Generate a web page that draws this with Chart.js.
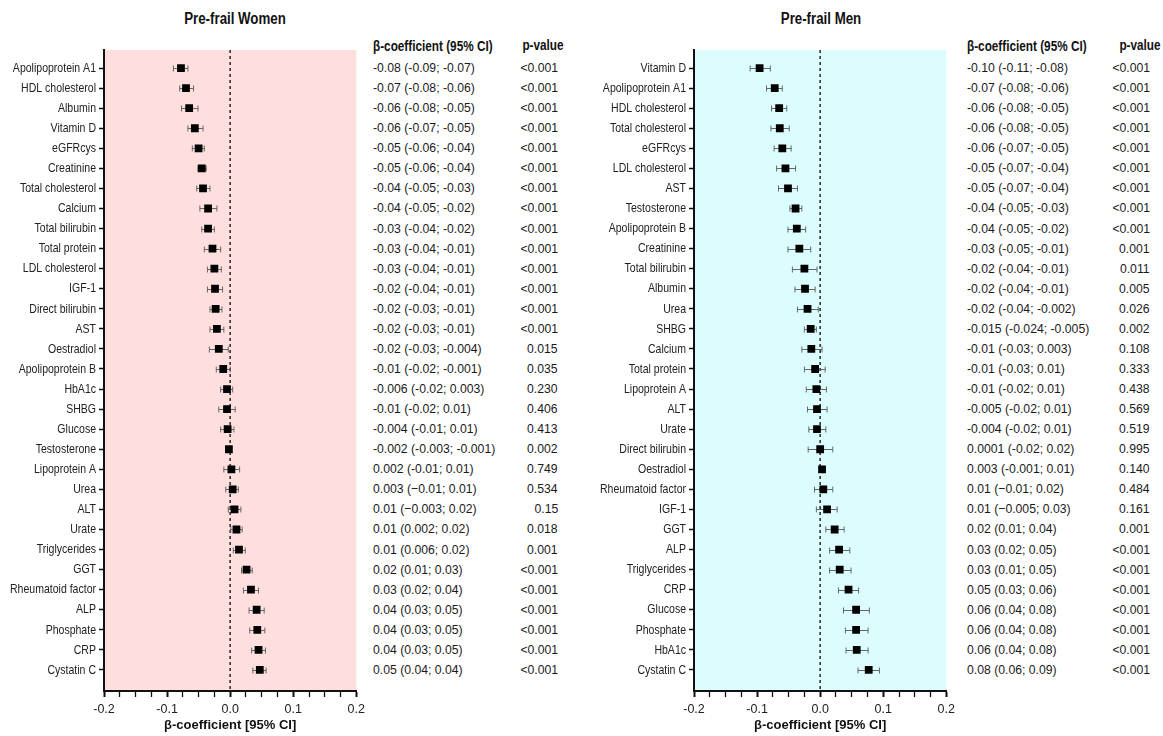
<!DOCTYPE html>
<html>
<head>
<meta charset="utf-8">
<script src="https://cdn.jsdelivr.net/npm/chart.js@4.4.0/dist/chart.umd.min.js"></script>
<style>
  body { margin: 0; background: #fff; width: 1163px; height: 736px; overflow: hidden; position: relative;
         font-family: 'Liberation Sans', Arial, sans-serif; color: #111; }
  canvas { position: absolute; top: 0; }
  .title { position: absolute; top: 10px; font-weight: bold; font-size: 16px; white-space: nowrap;
           transform: translateX(-50%) scaleX(0.83); transform-origin: center center; }
  .cell { position: absolute; font-size: 13px; line-height: 16px; white-space: nowrap; color: #1a1a1a; }
  .head { font-weight: bold; font-size: 14px; color: #111; }
</style>
</head>
<body>
<div class="title" style="left:235px">Pre-frail Women</div>
<div class="title" style="left:821px">Pre-frail Men</div>
<canvas id="women" width="370" height="736" style="left:0px"></canvas>
<canvas id="men" width="370" height="736" style="left:590px"></canvas>
<div id="tables"></div>
<script>
// ---- data: women ----
const womenLabels = ['Apolipoprotein A1', 'HDL cholesterol', 'Albumin', 'Vitamin D', 'eGFRcys', 'Creatinine',
  'Total cholesterol', 'Calcium', 'Total bilirubin', 'Total protein', 'LDL cholesterol', 'IGF-1', 'Direct bilirubin',
  'AST', 'Oestradiol', 'Apolipoprotein B', 'HbA1c', 'SHBG', 'Glucose', 'Testosterone', 'Lipoprotein A', 'Urea',
  'ALT', 'Urate', 'Triglycerides', 'GGT', 'Rheumatoid factor', 'ALP', 'Phosphate', 'CRP', 'Cystatin C'];
const womenBeta = [-0.078, -0.070, -0.065, -0.056, -0.050, -0.045, -0.043, -0.035, -0.035, -0.028, -0.025, -0.024,
  -0.023, -0.021, -0.018, -0.011, -0.005, -0.005, -0.004, -0.002, 0.002, 0.004, 0.007, 0.010, 0.014, 0.026,
  0.033, 0.042, 0.043, 0.045, 0.047];
const womenLo = [-0.090, -0.080, -0.077, -0.067, -0.060, -0.051, -0.053, -0.048, -0.045, -0.041, -0.036, -0.036,
  -0.032, -0.032, -0.033, -0.022, -0.015, -0.018, -0.015, -0.005, -0.010, -0.007, -0.003, 0.001, 0.005, 0.018,
  0.021, 0.030, 0.031, 0.034, 0.036];
const womenHi = [-0.067, -0.058, -0.051, -0.043, -0.041, -0.038, -0.032, -0.021, -0.025, -0.015, -0.014, -0.012,
  -0.013, -0.010, -0.003, 0.000, 0.004, 0.008, 0.006, 0.002, 0.015, 0.013, 0.017, 0.019, 0.024, 0.035,
  0.045, 0.054, 0.055, 0.056, 0.057];
const womenCI = ['-0.08 (-0.09; -0.07)', '-0.07 (-0.08; -0.06)', '-0.06 (-0.08; -0.05)', '-0.06 (-0.07; -0.05)',
  '-0.05 (-0.06; -0.04)', '-0.05 (-0.06; -0.04)', '-0.04 (-0.05; -0.03)', '-0.04 (-0.05; -0.02)',
  '-0.03 (-0.04; -0.02)', '-0.03 (-0.04; -0.01)', '-0.03 (-0.04; -0.01)', '-0.02 (-0.04; -0.01)',
  '-0.02 (-0.03; -0.01)', '-0.02 (-0.03; -0.01)', '-0.02 (-0.03; -0.004)', '-0.01 (-0.02; -0.001)',
  '-0.006 (-0.02; 0.003)', '-0.01 (-0.02; 0.01)', '-0.004 (-0.01; 0.01)', '-0.002 (-0.003; -0.001)',
  '0.002 (-0.01; 0.01)', '0.003 (\u22120.01; 0.01)', '0.01 (\u22120.003; 0.02)', '0.01 (0.002; 0.02)',
  '0.01 (0.006; 0.02)', '0.02 (0.01; 0.03)', '0.03 (0.02; 0.04)', '0.04 (0.03; 0.05)', '0.04 (0.03; 0.05)',
  '0.04 (0.03; 0.05)', '0.05 (0.04; 0.04)'];
const womenP = ['<0.001', '<0.001', '<0.001', '<0.001', '<0.001', '<0.001', '<0.001', '<0.001', '<0.001', '<0.001',
  '<0.001', '<0.001', '<0.001', '<0.001', '0.015', '0.035', '0.230', '0.406', '0.413', '0.002', '0.749', '0.534',
  '0.15', '0.018', '0.001', '<0.001', '<0.001', '<0.001', '<0.001', '<0.001', '<0.001'];

// ---- data: men ----
const menLabels = ['Vitamin D', 'Apolipoprotein A1', 'HDL cholesterol', 'Total cholesterol', 'eGFRcys',
  'LDL cholesterol', 'AST', 'Testosterone', 'Apolipoprotein B', 'Creatinine', 'Total bilirubin', 'Albumin', 'Urea',
  'SHBG', 'Calcium', 'Total protein', 'Lipoprotein A', 'ALT', 'Urate', 'Direct bilirubin', 'Oestradiol',
  'Rheumatoid factor', 'IGF-1', 'GGT', 'ALP', 'Triglycerides', 'CRP', 'Glucose', 'Phosphate', 'HbA1c', 'Cystatin C'];
const menBeta = [-0.096, -0.072, -0.065, -0.064, -0.060, -0.055, -0.051, -0.039, -0.037, -0.033, -0.025, -0.024,
  -0.020, -0.015, -0.014, -0.008, -0.006, -0.005, -0.005, 0.000, 0.003, 0.005, 0.011, 0.023, 0.030, 0.031,
  0.045, 0.057, 0.057, 0.058, 0.077];
const menLo = [-0.111, -0.085, -0.077, -0.078, -0.073, -0.069, -0.066, -0.048, -0.051, -0.051, -0.044, -0.040,
  -0.036, -0.025, -0.029, -0.025, -0.022, -0.020, -0.018, -0.019, 0.000, -0.009, -0.006, 0.009, 0.015, 0.015,
  0.029, 0.037, 0.040, 0.041, 0.060];
const menHi = [-0.079, -0.060, -0.053, -0.049, -0.046, -0.039, -0.036, -0.029, -0.023, -0.015, -0.005, -0.008,
  -0.003, -0.006, 0.003, 0.008, 0.010, 0.011, 0.009, 0.020, 0.007, 0.020, 0.027, 0.038, 0.047, 0.049,
  0.061, 0.078, 0.076, 0.076, 0.094];
const menCI = ['-0.10 (-0.11; -0.08)', '-0.07 (-0.08; -0.06)', '-0.06 (-0.08; -0.05)', '-0.06 (-0.08; -0.05)',
  '-0.06 (-0.07; -0.05)', '-0.05 (-0.07; -0.04)', '-0.05 (-0.07; -0.04)', '-0.04 (-0.05; -0.03)',
  '-0.04 (-0.05; -0.02)', '-0.03 (-0.05; -0.01)', '-0.02 (-0.04; -0.01)', '-0.02 (-0.04; -0.01)',
  '-0.02 (-0.04; -0.002)', '-0.015 (-0.024; -0.005)', '-0.01 (-0.03; 0.003)', '-0.01 (-0.03; 0.01)',
  '-0.01 (-0.02; 0.01)', '-0.005 (-0.02; 0.01)', '-0.004 (-0.02; 0.01)', '0.0001 (-0.02; 0.02)',
  '0.003 (-0.001; 0.01)', '0.01 (\u22120.01; 0.02)', '0.01 (\u22120.005; 0.03)', '0.02 (0.01; 0.04)',
  '0.03 (0.02; 0.05)', '0.03 (0.01; 0.05)', '0.05 (0.03; 0.06)', '0.06 (0.04; 0.08)', '0.06 (0.04; 0.08)',
  '0.06 (0.04; 0.08)', '0.08 (0.06; 0.09)'];
const menP = ['<0.001', '<0.001', '<0.001', '<0.001', '<0.001', '<0.001', '<0.001', '<0.001', '<0.001', '0.001',
  '0.011', '0.005', '0.026', '0.002', '0.108', '0.333', '0.438', '0.569', '0.519', '0.995', '0.140', '0.484',
  '0.161', '0.001', '<0.001', '<0.001', '<0.001', '<0.001', '<0.001', '<0.001', '<0.001'];

// ---- axis ticks ----
const xTickValues = [-0.2, -0.175, -0.15, -0.125, -0.1, -0.075, -0.05, -0.025, 0, 0.025, 0.05, 0.075, 0.1,
  0.125, 0.15, 0.175, 0.2];
const xMajorTicks = [-0.2, -0.1, 0, 0.1, 0.2];
const xTickLabels = ['-0.2', '-0.1', '0.0', '0.1', '0.2'];

const FONT = "'Liberation Sans', Arial, sans-serif";
const LABEL_SQUEEZE = 0.78;   // the original uses a condensed face
const CELL_SQUEEZE = 0.94;
const HEAD_SQUEEZE = 0.84;

function forestPlugin(bg, lo, hi) {
    return {
        id: 'forest',
        beforeDraw(chart) {
            const { ctx, chartArea: a } = chart;
            // squeeze the y labels horizontally, anchored at the axis
            const ys = chart.scales.y;
            if (!ys._squeezed) {
                const orig = ys.drawLabels;
                ys._computeLabelArea = () => undefined;
                ys.drawLabels = function (area) {
                    const c = this.ctx, ax = this.right - 8;
                    c.save();
                    c.translate(ax, 0); c.scale(LABEL_SQUEEZE, 1); c.translate(-ax, 0);
                    orig.call(this, area);
                    c.restore();
                };
                ys._squeezed = true;
            }
            ctx.save();
            ctx.fillStyle = bg;
            ctx.fillRect(a.left, a.top, a.right - a.left, a.bottom - a.top);
            ctx.restore();
        },
        beforeDatasetsDraw(chart) {
            const { ctx, chartArea: a, scales: { x, y } } = chart;
            ctx.save();
            const x0 = x.getPixelForValue(0);
            ctx.strokeStyle = '#333';
            ctx.lineWidth = 1.6;
            ctx.setLineDash([3, 3]);
            ctx.beginPath(); ctx.moveTo(x0, a.top); ctx.lineTo(x0, a.bottom); ctx.stroke();
            ctx.setLineDash([]);
            ctx.strokeStyle = '#666';
            ctx.lineWidth = 1;
            lo.forEach((l, i) => {
                const yy = Math.round(y.getPixelForValue(i)) + 0.5;
                const x1 = x.getPixelForValue(l), x2 = x.getPixelForValue(hi[i]);
                ctx.beginPath();
                ctx.moveTo(x1, yy); ctx.lineTo(x2, yy);
                ctx.moveTo(x1, yy - 3); ctx.lineTo(x1, yy + 3);
                ctx.moveTo(x2, yy - 3); ctx.lineTo(x2, yy + 3);
                ctx.stroke();
            });
            ctx.restore();
        }
    };
}

function makePanel(id, labels, beta, lo, hi, bg) {
    return new Chart(document.getElementById(id), {
        type: 'scatter',
        data: {
            datasets: [{
                data: beta.map((b, i) => ({ x: b, y: i })),
                pointStyle: 'rect', pointRadius: 5.5, pointHoverRadius: 5.5,
                backgroundColor: '#000', borderColor: '#000', borderWidth: 0,
            }],
        },
        options: {
            responsive: false, animation: false, events: [],
            layout: { padding: { top: 50, right: 12, left: 0, bottom: 0 } },
            plugins: { legend: { display: false }, tooltip: { enabled: false } },
            scales: {
                x: {
                    type: 'linear', min: -0.2, max: 0.2,
                    afterBuildTicks: s => { s.ticks = xTickValues.map(v => ({ value: v })); },
                    afterFit: s => { s.height = 45; },
                    grid: { drawOnChartArea: false, drawTicks: true, tickLength: 6, tickColor: '#111',
                            tickWidth: c => xMajorTicks.includes(c.tick?.value) ? 2 : 1.3 },
                    border: { color: '#111', width: 2 },
                    ticks: {
                        autoSkip: false, maxRotation: 0, padding: 5, color: '#222',
                        font: { family: FONT, size: 12.5 },
                        callback: v => { const k = xMajorTicks.indexOf(v); return k >= 0 ? xTickLabels[k] : ''; },
                    },
                    title: { display: true, text: '\u03b2-coefficient [95% CI]', color: '#111',
                             font: { family: FONT, size: 13, weight: 'bold' }, padding: { top: 0, bottom: 3 } },
                },
                y: {
                    type: 'linear', min: -0.9, max: 31.05, reverse: true,
                    afterBuildTicks: s => { s.ticks = labels.map((_, i) => ({ value: i })); },
                    afterFit: s => { s.width = 104; },
                    grid: { drawOnChartArea: false, drawTicks: true, tickLength: 5, tickColor: '#111', tickWidth: 1.5 },
                    border: { color: '#111', width: 2 },
                    ticks: { autoSkip: false, padding: 3, color: '#222', font: { family: FONT, size: 13.5 },
                             callback: v => labels[v] },
                },
            },
        },
        plugins: [forestPlugin(bg, lo, hi)],
    });
}

function addCell(text, x, y, bold, align) {
    const d = document.createElement('div');
    const k = bold ? HEAD_SQUEEZE : CELL_SQUEEZE;
    d.className = 'cell' + (bold ? ' head' : '');
    d.textContent = text;
    d.style.top = y + 'px';
    if (align === 'right') {
        d.style.right = (1163 - x) + 'px';
        d.style.transformOrigin = 'right center';
        d.style.transform = `translateY(-50%) scaleX(${k})`;
    } else if (align === 'center') {
        d.style.left = x + 'px';
        d.style.transformOrigin = 'left center';
        d.style.transform = `scaleX(${k}) translate(-50%,-50%)`;
    } else {
        d.style.left = x + 'px';
        d.style.transformOrigin = 'left center';
        d.style.transform = `translateY(-50%) scaleX(${k})`;
    }
    document.getElementById('tables').appendChild(d);
}

function makeTable(chart, ciText, pText, ciLeft, pRight, pHeadCenter) {
    const y = chart.scales.y;
    addCell('\u03b2-coefficient (95% CI)', ciLeft, 46, true);
    addCell('p-value', pHeadCenter, 45, true, 'center');
    ciText.forEach((t, i) => {
        const yy = y.getPixelForValue(i);
        addCell(t, ciLeft, yy, false);
        addCell(pText[i], pRight, yy, false, 'right');
    });
}

const women = makePanel('women', womenLabels, womenBeta, womenLo, womenHi, '#ffdede');
const men = makePanel('men', menLabels, menBeta, menLo, menHi, '#dcfdfd');
makeTable(women, womenCI, womenP, 373, 558, 543);
makeTable(men, menCI, menP, 967, 1150, 1140);
</script>
</body>
</html>
